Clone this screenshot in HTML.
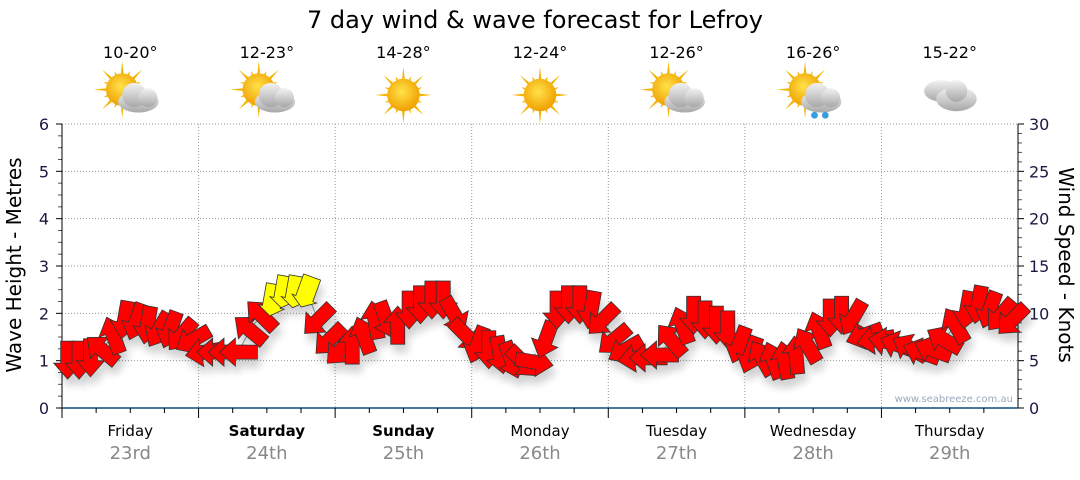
<!DOCTYPE html>
<html><head><meta charset="utf-8"><style>
body{margin:0;background:#fff;}
svg text{font-family:"DejaVu Sans","Liberation Sans",sans-serif;}
</style></head><body>
<svg id="chart" width="1080" height="475" xmlns="http://www.w3.org/2000/svg">
<defs>
<filter id="sh" x="-50%" y="-50%" width="200%" height="200%"><feGaussianBlur in="SourceAlpha" stdDeviation="4"/><feOffset dx="3" dy="8"/><feComponentTransfer><feFuncA type="linear" slope="0.18"/></feComponentTransfer><feMerge><feMergeNode/><feMergeNode in="SourceGraphic"/></feMerge></filter>
<radialGradient id="sun" cx="0.45" cy="0.4" r="0.6"><stop offset="0" stop-color="#ffe24a"/><stop offset="1" stop-color="#f0a000"/></radialGradient>
<linearGradient id="cl" x1="0" y1="0" x2="0" y2="1"><stop offset="0" stop-color="#f2f2f2"/><stop offset="1" stop-color="#a8a8a8"/></linearGradient>
</defs>
<text x="535" y="28" font-size="24" text-anchor="middle" fill="#000">7 day wind &amp; wave forecast for Lefroy</text>
<g id="grid"></g><g id="axes"></g><g id="days"></g><g id="icons"></g>
<text x="1013" y="402" font-size="10" text-anchor="end" fill="#9aa8c0">www.seabreeze.com.au</text>
<text transform="translate(21,265) rotate(-90)" font-size="20" text-anchor="middle">Wave Height - Metres</text>
<text transform="translate(1059,265) rotate(90)" font-size="20" text-anchor="middle">Wind Speed - Knots</text>
<g id="series"></g>
</svg>
<script>
const dayNames=["Friday","Saturday","Sunday","Monday","Tuesday","Wednesday","Thursday"];
const dayDates=["23rd","24th","25th","26th","27th","28th","29th"];
const boldDays=[false,true,true,false,false,false,false];
const temps=["10-20°","12-23°","14-28°","12-24°","12-26°","16-26°","15-22°"];
const weather=["partly","partly","sunny","sunny","partly","showers","cloudy"];
const leftTicks=[0,1,2,3,4,5,6];
const rightTicks=[0,5,10,15,20,25,30];
// 2-hourly samples (12 per day)
const waveHeight=[1.01,1.01,1.06,1.23,1.54,1.86,1.82,1.75,1.65,1.65,1.54,1.44,
1.18,1.18,1.18,1.18,1.65,1.96,2.28,2.45,2.45,2.45,1.86,1.44,
1.23,1.33,1.54,1.86,1.86,1.75,2.07,2.18,2.28,2.28,1.96,1.54,
1.33,1.23,1.12,1.01,0.97,0.97,1.44,2.07,2.18,2.18,2.07,1.86,
1.44,1.23,1.06,1.06,1.12,1.44,1.75,1.96,1.86,1.75,1.65,1.33,
1.12,1.06,1.01,1.01,1.12,1.33,1.65,1.90,1.96,1.90,1.54,1.44,
1.40,1.33,1.27,1.18,1.23,1.44,1.75,2.07,2.18,2.07,1.96,1.86];
const windDir=[90,90,90,220,250,100,110,100,120,110,130,150,
170,180,180,180,220,225,100,100,100,110,135,135,
135,270,250,260,70,270,90,90,90,90,60,45,
110,90,80,70,45,10,110,90,90,90,100,135,
140,150,170,180,180,230,250,90,90,90,90,110,
110,240,250,260,265,240,250,90,90,120,160,170,
190,200,210,200,200,210,240,100,100,110,130,135];
const windSpeed=[8,8,8,9,10,11,11,11,10,10,9,9,
9,9,9,9,11,13,17,18,18,17,12,11,
10,10,11,12,12,12,13,13,13,13,12,11,
10,10,9,9,9,9,11,12,12,12,12,11,
9,9,8,8,9,10,11,12,12,12,11,10,
9,9,9,9,9,10,11,12,12,12,10,10,
9,9,9,9,9,10,11,12,12,12,12,12];

const NS="http://www.w3.org/2000/svg";
const X0=62,X1=1018,Y0=408,Y6=124,DAYW=(X1-X0)/7;
const yScale=m=>Y0-(Y0-Y6)*m/6;
const yScaleR=k=>Y0-(Y0-Y6)*k/30;
const xScale=i=>X0+(i+0.5)*DAYW/12;
function mk(tag,attrs,parent){const e=document.createElementNS(NS,tag);for(const k in attrs)e.setAttribute(k,attrs[k]);parent.appendChild(e);return e;}
const grid=document.getElementById('grid'),axes=document.getElementById('axes'),days=document.getElementById('days'),icons=document.getElementById('icons'),series=document.getElementById('series');

leftTicks.forEach(v=>{
  if(v>0){const g=mk('line',{x1:X0,x2:X1,y1:yScale(v),y2:yScale(v),stroke:'#999','stroke-dasharray':'1,2'},grid);
  
  }
  const t=mk('text',{x:49,y:yScale(v)+6,'font-size':16,'text-anchor':'end',fill:'#1a1a40'},axes);t.textContent=v;
  
  
  mk('line',{x1:X0-6,x2:X0,y1:yScale(v),y2:yScale(v),stroke:'#000'},axes);
  if(v<6)for(let q=1;q<4;q++)mk('line',{x1:X0-4,x2:X0,y1:yScale(v+q/4),y2:yScale(v+q/4),stroke:'#555'},axes);
});
rightTicks.forEach(v=>{
  const t=mk('text',{x:1029,y:yScaleR(v)+6,'font-size':16,fill:'#1a1a40'},axes);t.textContent=v;
  
  
  mk('line',{x1:X1,x2:X1+6,y1:yScaleR(v),y2:yScaleR(v),stroke:'#000'},axes);
  if(v<30)for(let q=1;q<5;q++)mk('line',{x1:X1,x2:X1+4,y1:yScaleR(v+q),y2:yScaleR(v+q),stroke:'#555'},axes);
});
mk('line',{x1:X0,x2:X0,y1:Y6,y2:Y0,stroke:'#000'},axes);
mk('line',{x1:X1,x2:X1,y1:Y6,y2:Y0,stroke:'#000'},axes);
mk('line',{x1:X0,x2:X1,y1:Y0,y2:Y0,stroke:'#0b4f7a','stroke-width':1.5},axes);
for(let d=0;d<7;d++){
  const xs=X0+d*DAYW;
  if(d>0){const g=mk('line',{x1:xs,x2:xs,y1:Y6,y2:Y0,stroke:'#999','stroke-dasharray':'1,2'},grid);
  
  }
  mk('line',{x1:xs,x2:xs,y1:Y0,y2:Y0+10,stroke:'#000'},axes);
  for(let q=1;q<4;q++)mk('line',{x1:xs+q*DAYW/4,x2:xs+q*DAYW/4,y1:Y0,y2:Y0+5,stroke:'#000'},axes);
  const cx=xs+DAYW/2;
  const n=mk('text',{x:cx,y:436,'font-size':15,'text-anchor':'middle','font-weight':boldDays[d]?'bold':'normal'},days);n.textContent=dayNames[d];
  
  
  const dt=mk('text',{x:cx,y:459,'font-size':18,'text-anchor':'middle',fill:'#888'},days);dt.textContent=dayDates[d];
  
  
  const tp=mk('text',{x:cx,y:58,'font-size':16,'text-anchor':'middle'},icons);tp.textContent=temps[d];
  
  
  const g=mk('g',{transform:`translate(${cx},95) scale(1.35)`},icons);
  
  
  const w=weather[d];
  if(w!=='cloudy'){
    const sx=w==='sunny'?0:-6, sy=w==='sunny'?0:-4;
    for(let r=0;r<16;r++){const a=r*Math.PI/8,L=r%2?15:21;
      mk('polygon',{points:`${sx+Math.cos(a-0.12)*10},${sy+Math.sin(a-0.12)*10} ${sx+Math.cos(a)*L},${sy+Math.sin(a)*L} ${sx+Math.cos(a+0.12)*10},${sy+Math.sin(a+0.12)*10}`,fill:'#f4b400'},g);}
    mk('circle',{cx:sx,cy:sy,r:12,fill:'url(#sun)'},g);
  }
  if(w==='partly'||w==='showers'){
    mk('ellipse',{cx:6,cy:5,rx:15,ry:8,fill:'url(#cl)'},g);
    mk('circle',{cx:3,cy:0,r:9,fill:'url(#cl)'},g);
    mk('circle',{cx:13,cy:2,r:7,fill:'url(#cl)'},g);
    if(w==='showers'){mk('circle',{cx:1,cy:15,r:2.5,fill:'#3a9be0'},g);mk('circle',{cx:9,cy:15,r:2.5,fill:'#3a9be0'},g);}
  }
  if(w==='cloudy'){
    mk('ellipse',{cx:-6,cy:-3,rx:13,ry:8,fill:'url(#cl)'},g);
    mk('ellipse',{cx:5,cy:3,rx:15,ry:9,fill:'url(#cl)'},g);
    mk('circle',{cx:5,cy:-3,r:8,fill:'url(#cl)'},g);
  }
}
// connecting line
mk('polyline',{points:waveHeight.map((m,i)=>`${xScale(i)},${yScale(m)}`).join(' '),fill:'none',stroke:'#999','stroke-width':1},series);
const ag=mk('g',{filter:'url(#sh)'},series);
waveHeight.forEach((m,i)=>{
  const yel=windSpeed[i]>=15;
  const L=yel?32:38, hw=yel?13:14, sw=yel?9:7, hl=yel?9:16;
  const p=`${-L/2},${-sw} ${L/2-hl},${-sw} ${L/2-hl},${-hw} ${L/2},0 ${L/2-hl},${hw} ${L/2-hl},${sw} ${-L/2},${sw}`;
  const a=mk('polygon',{points:p,fill:yel?'#ffff00':'#ff0000',stroke:'#333','stroke-width':0.8,
    transform:`translate(${xScale(i)},${yScale(m)}) rotate(${windDir[i]})`},ag);
  
  
});
</script>
</body></html>
